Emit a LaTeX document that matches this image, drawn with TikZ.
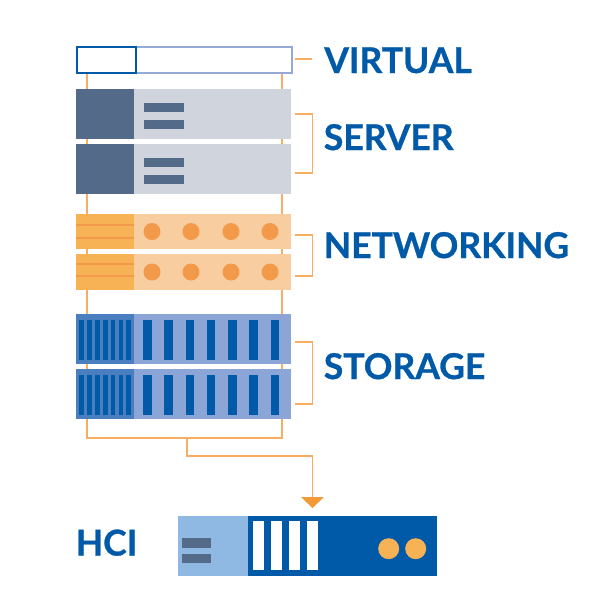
\documentclass[tikz,border=0pt]{standalone}
\usepackage{fontspec}
\setmainfont{Lato}[BoldFeatures={FakeBold=0.8}]
\definecolor{navy}{HTML}{005AA7}
\definecolor{peri}{HTML}{95A9D6}
\definecolor{wire}{HTML}{F7AE62}
\definecolor{slate}{HTML}{536A88}
\definecolor{mist}{HTML}{D0D5DD}
\definecolor{amber}{HTML}{F8B256}
\definecolor{peach}{HTML}{F8CDA0}
\definecolor{tang}{HTML}{F2994A}
\definecolor{spear}{HTML}{F29A38}
\definecolor{midblue}{HTML}{4A7FBF}
\definecolor{lilac}{HTML}{8BA5D6}
\definecolor{sky}{HTML}{8FB8E2}
\tikzset{
  wireline/.style={draw=wire,line width=0.85pt},
  label/.style={anchor=base west,text=navy,font=\fontsize{20.2}{20.2}\selectfont\bfseries,inner sep=0pt},
  rackrow/.style={rectangle,inner sep=0pt,minimum width=4.28cm,anchor=north west},
  dot/.style={circle,inner sep=0pt,minimum size=0.34cm}
}
\begin{document}
\begin{tikzpicture}[x=0.02cm,y=-0.02cm]
\useasboundingbox (0,0) rectangle (600,600);
% connector coordinates
\coordinate (topL) at (87,72);
\coordinate (topR) at (282,72);
\coordinate (botL) at (87,438);
\coordinate (botR) at (282,438);
\coordinate (midB) at (187,438);
\coordinate (midD) at (187,456);
\coordinate (runE) at (312.5,456);
\coordinate (tip) at (312.5,497);
% wires behind
\draw[wireline] (topL) -- (botL) -- (botR) -- (topR);
\draw[wireline] (midB) -- (midD) -- (runE) -- (tip);
\fill[spear] (301,497) -- (324,497) -- (312.5,508) -- cycle;
% virtual
\node[rectangle,inner sep=0pt,anchor=north west,minimum width=4.3cm,minimum height=0.52cm,draw=peri,line width=1.2pt,fill=white] (virt) at (75.7,45.7) {};
\node[rectangle,inner sep=0pt,anchor=north west,minimum width=1.19cm,minimum height=0.52cm,draw=navy,line width=1.2pt,fill=white] (virtL) at (75.7,45.7) {};
% server
\foreach \n/\y in {s1/89,s2/144}{
  \node[rackrow,minimum height=1cm,fill=mist] (\n) at (76.5,\y) {};
  \fill[slate] (76.5,\y) rectangle (134.5,\y+50);
  \fill[slate] (144,\y+14) rectangle (184,\y+23);
  \fill[slate] (144,\y+31) rectangle (184,\y+40);
}
% networking
\foreach \n/\y/\h in {n1/214/35,n2/254/36}{
  \node[rackrow,minimum height=\h*0.02cm,fill=peach] (\n) at (76.5,\y) {};
  \fill[amber] (76.5,\y) rectangle (134.5,\y+\h);
}
\foreach \y in {225,238,264,276}{\fill[tang] (76.5,\y-1) rectangle (134.5,\y+1);}
\foreach \x in {152,191,231,270}{
  \node[dot,fill=tang] at (\x,231.5) {};
  \node[dot,fill=tang] at (\x,272) {};
}
% storage
\foreach \n/\y in {t1/314,t2/369}{
  \node[rackrow,minimum height=1cm,fill=lilac] (\n) at (76.5,\y) {};
  \fill[midblue] (76.5,\y) rectangle (134.5,\y+50);
  \foreach \i in {0,...,6}{
    \fill[navy] (81.7+\i*7.85-2.3,\y+5.5) rectangle (81.7+\i*7.85+2.3,\y+46);
    \fill[navy] (147.3+\i*21.3-4.3,\y+5.5) rectangle (147.3+\i*21.3+4.3,\y+46);
  }
}
% brackets
\coordinate (vb1) at (295,59); \coordinate (vb2) at (312,59);
\draw[wireline] (vb1) -- (vb2);
\draw[wireline] (295,114) -- (312.5,114) -- (312.5,173) -- (295,173);
\draw[wireline] (295,235) -- (312.5,235) -- (312.5,276) -- (295,276);
\draw[wireline] (295,342) -- (312.5,342) -- (312.5,404) -- (295,404);
% labels
\node[label] (lv) at (324,73) {VIRTUAL};
\node[label] (ls) at (323.5,150) {SERVER};
\node[label] (ln) at (323.5,258) {NETWORKING};
\node[label] (lt) at (323.5,379) {STORAGE};
\node[label] (lh) at (75.5,555.5) {HCI};
% hci
\node[rectangle,inner sep=0pt,anchor=north west,minimum width=5.18cm,minimum height=1.206cm,fill=navy] (hci) at (178,515.7) {};
\fill[sky] (178,515.7) rectangle (247.7,576);
\fill[slate] (182,538.3) rectangle (211.5,548);
\fill[slate] (182,553.7) rectangle (211.5,563);
\foreach \x in {253,271,289,307}{\fill[white] (\x,521.3) rectangle (\x+11.3,570.3);}
\foreach \x in {388.7,415.7}{\node[circle,inner sep=0pt,minimum size=0.42cm,fill=amber] at (\x,548.7) {};}
\end{tikzpicture}
\end{document}
